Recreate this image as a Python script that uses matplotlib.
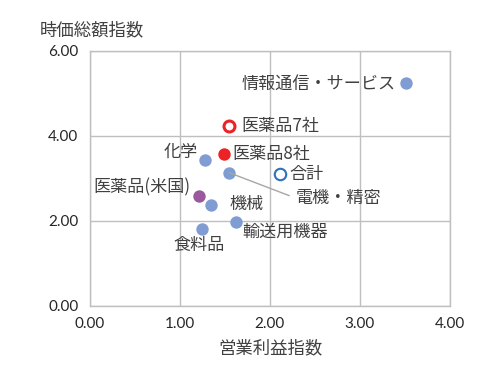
import matplotlib
matplotlib.use("Agg")
import matplotlib.pyplot as plt

plt.rcParams['font.family'] = ['Noto Sans CJK JP', 'DejaVu Sans']

names = ["情報通信・サービス", "医薬品7社", "医薬品8社", "化学", "電機・精密", "合計",
         "医薬品(米国)", "機械", "輸送用機器", "食料品"]
op_index = [3.51, 1.55, 1.49, 1.28, 1.55, 2.11, 1.21, 1.35, 1.63, 1.25]
mc_index = [5.23, 4.24, 3.57, 3.42, 3.13, 3.10, 2.58, 2.36, 1.98, 1.81]

x_ticks = [0, 1, 2, 3, 4]
y_ticks = [0, 2, 4, 6]

BLUE = "#7F9DD3"
RED = "#EC2227"
PURPLE = "#9C589F"
HOLLOW_BLUE = "#2C72B8"
styles = {
    "医薬品7社": dict(facecolor="white", edgecolor=RED, linewidth=2.2, s=62),
    "医薬品8社": dict(facecolor=RED, edgecolor=RED, linewidth=0, s=80),
    "合計": dict(facecolor="white", edgecolor=HOLLOW_BLUE, linewidth=1.5, s=68),
    "医薬品(米国)": dict(facecolor=PURPLE, edgecolor=PURPLE, linewidth=0, s=80),
}

fig = plt.figure(figsize=(5.0, 3.8), dpi=100)
ax = fig.add_axes([0.179, 0.1955, 0.721, 0.671])

for n, x, y in zip(names, op_index, mc_index):
    st = styles.get(n, dict(facecolor=BLUE, edgecolor=BLUE, linewidth=0, s=80))
    ax.scatter([x], [y], zorder=3, **st)

label_pos = {
    "情報通信・サービス": (-7, 0, "right"),
    "医薬品7社": (9, 0, "left"),
    "医薬品8社": (6, 0, "left"),
    "化学": (-5, 6, "right"),
    "合計": (7, 0, "left"),
    "医薬品(米国)": (-6, 6, "right"),
    "機械": (13, 1, "left"),
    "輸送用機器": (4, -7, "left"),
    "食料品": (-2, -12, "center"),
}
LFS = 12.3
for n, x, y in zip(names, op_index, mc_index):
    if n in label_pos:
        dx, dy, ha = label_pos[n]
        ax.annotate(n, (x, y), xytext=(dx, dy), textcoords="offset points",
                    ha=ha, va="center", fontsize=LFS, color="#404040", zorder=4)
    else:
        ax.annotate(n, (x, y), xytext=(2.29, 2.53), textcoords="data",
                    ha="left", va="center", fontsize=LFS, color="#404040",
                    arrowprops=dict(arrowstyle="-", color="#A6A6A6", lw=1,
                                    shrinkA=3, shrinkB=0, relpos=(0, 0.5)),
                    zorder=4)

ax.set_xlim(0, 4)
ax.set_ylim(0, 6)
ax.set_xticks(x_ticks)
ax.set_yticks(y_ticks)
ax.set_xticklabels([f"{v:.2f}" for v in x_ticks], fontfamily="Lato", fontsize=11, color="#262626")
ax.set_yticklabels([f"{v:.2f}" for v in y_ticks], fontfamily="Lato", fontsize=11, color="#262626")
ax.grid(True, color="#BFBFBF", linewidth=1)
ax.set_axisbelow(True)
for s in ax.spines.values():
    s.set_color("#BFBFBF")
    s.set_linewidth(1)
ax.tick_params(length=0, pad=8)

fig.text(40/500, 1 - 30/380, "時価総額指数", fontsize=12.5, color="#404040", ha="left", va="center")
fig.text(270/500, 1 - 348/380, "営業利益指数", fontsize=12.5, color="#404040", ha="center", va="center")

fig.savefig("out.png", dpi=100)
